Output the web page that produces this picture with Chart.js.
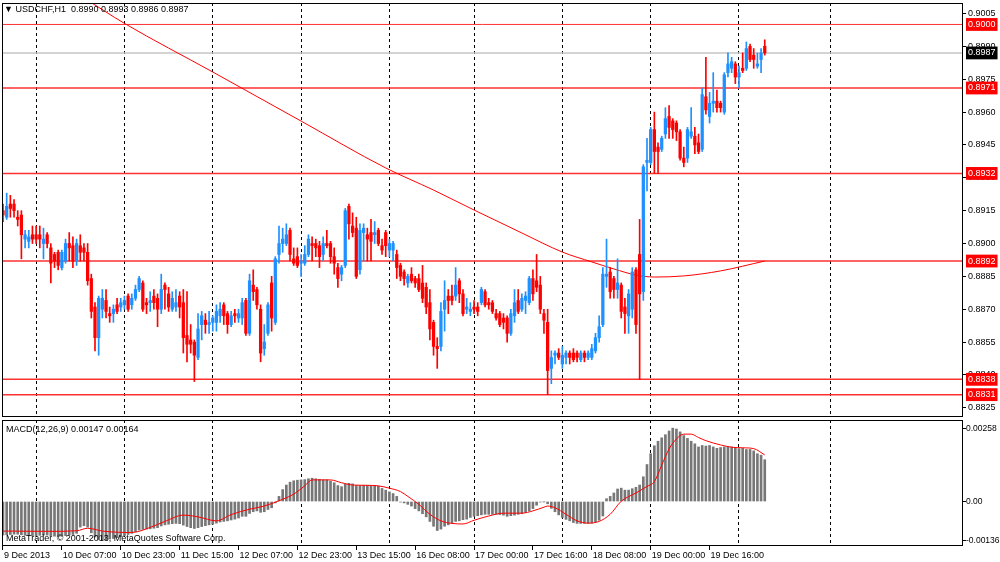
<!DOCTYPE html>
<html>
<head>
<meta charset="utf-8">
<title>USDCHF,H1</title>
<script src="https://cdn.jsdelivr.net/npm/chart.js@4.4.1/dist/chart.umd.min.js"></script>
<style>
  html, body { margin: 0; padding: 0; background: #fff; }
  body { width: 1000px; height: 562px; position: relative; overflow: hidden; font-family: 'Liberation Sans', 'DejaVu Sans', sans-serif; }
  canvas { position: absolute; left: 0; }
  #priceChart { top: 0; }
  #macdChart { top: 418px; }
  .label { position: absolute; font-size: 9px; line-height: 11px; color: #000; white-space: nowrap; }
</style>
</head>
<body>
<canvas id="priceChart" width="1000" height="418"></canvas>
<canvas id="macdChart" width="1000" height="144"></canvas>
<div class="label" style="left:4px;top:4px">▼ USDCHF,H1&nbsp;&nbsp;0.8990 0.8993 0.8986 0.8987</div>
<div class="label" style="left:6px;top:424px">MACD(12,26,9) 0.00147 0.00164</div>
<div class="label" style="left:6px;top:533px">MetaTrader, © 2001-2013, MetaQuotes Software Corp.</div>
<script>
// Hourly USDCHF candles, one value per bar (bar 0 = 9 Dec 15:00)
const candleOpen = [
  0.8915,0.8912,0.8918,0.8918,0.8912,0.8913,0.8902,0.8901,0.8904,0.8904,0.8904,0.8900,
  0.8904,0.8898,0.8895,0.8896,0.8889,0.8892,0.8900,0.8899,0.8892,0.8899,0.8898,0.8896,
  0.8884,0.8871,0.8857,0.8870,0.8874,0.8868,0.8868,0.8872,0.8871,0.8872,0.8876,0.8872,
  0.8875,0.8879,0.8882,0.8873,0.8873,0.8876,0.8875,0.8870,0.8881,0.8877,0.8870,0.8871,
  0.8876,0.8873,0.8858,0.8856,0.8855,0.8848,0.8863,0.8865,0.8863,0.8864,0.8864,0.8867,
  0.8872,0.8868,0.8863,0.8868,0.8866,0.8866,0.8874,0.8859,0.8881,0.8879,0.8870,0.8852,
  0.8859,0.8882,0.8864,0.8895,0.8900,0.8900,0.8906,0.8893,0.8894,0.8891,0.8891,0.8895,
  0.8900,0.8900,0.8899,0.8895,0.8900,0.8900,0.8894,0.8889,0.8886,0.8890,0.8917,0.8908,
  0.8907,0.8888,0.8905,0.8904,0.8905,0.8904,0.8906,0.8899,0.8905,0.8897,0.8897,0.8895,
  0.8890,0.8887,0.8882,0.8886,0.8884,0.8884,0.8882,0.8880,0.8873,0.8864,0.8853,0.8853,
  0.8870,0.8876,0.8876,0.8876,0.8883,0.8877,0.8870,0.8869,0.8871,0.8871,0.8873,0.8878,
  0.8873,0.8873,0.8868,0.8868,0.8866,0.8866,0.8859,0.8867,0.8874,0.8870,0.8874,0.8873,
  0.8884,0.8883,0.8881,0.8868,0.8864,0.8843,0.8849,0.8850,0.8845,0.8848,0.8850,0.8850,
  0.8850,0.8847,0.8850,0.8848,0.8848,0.8851,0.8857,0.8863,0.8885,0.8887,0.8884,0.8879,
  0.8881,0.8871,0.8867,0.8870,0.8888,0.8895,0.8878,0.8937,0.8937,0.8952,0.8944,0.8943,
  0.8950,0.8958,0.8956,0.8955,0.8951,0.8939,0.8939,0.8949,0.8949,0.8946,0.8943,0.8967,
  0.8958,0.8964,0.8965,0.8964,0.8960,0.8978,0.8980,0.8982,0.8976,0.8980,0.8980,0.8990,
  0.8986,0.8981,0.8984,0.8990
];
const candleHigh = [
  0.8918,0.8923,0.8922,0.8920,0.8915,0.8915,0.8906,0.8906,0.8908,0.8908,0.8908,0.8907,
  0.8905,0.8900,0.8896,0.8897,0.8897,0.8902,0.8905,0.8903,0.8902,0.8904,0.8900,0.8900,
  0.8886,0.8873,0.8876,0.8879,0.8879,0.8871,0.8872,0.8875,0.8875,0.8876,0.8877,0.8877,
  0.8881,0.8885,0.8883,0.8875,0.8878,0.8879,0.8877,0.8886,0.8882,0.8880,0.8878,0.8879,
  0.8878,0.8879,0.8878,0.8863,0.8856,0.8868,0.8869,0.8868,0.8869,0.8867,0.8872,0.8873,
  0.8873,0.8869,0.8869,0.8870,0.8870,0.8875,0.8875,0.8886,0.8888,0.8880,0.8872,0.8863,
  0.8873,0.8885,0.8894,0.8908,0.8907,0.8909,0.8907,0.8898,0.8898,0.8895,0.8899,0.8904,
  0.8903,0.8902,0.8901,0.8903,0.8906,0.8901,0.8898,0.8891,0.8890,0.8916,0.8918,0.8914,
  0.8912,0.8909,0.8909,0.8907,0.8911,0.8910,0.8907,0.8902,0.8906,0.8902,0.8901,0.8897,
  0.8891,0.8888,0.8886,0.8889,0.8885,0.8886,0.8890,0.8882,0.8879,0.8865,0.8857,0.8873,
  0.8883,0.8879,0.8881,0.8889,0.8884,0.8879,0.8875,0.8873,0.8874,0.8873,0.8880,0.8879,
  0.8875,0.8874,0.8870,0.8869,0.8868,0.8867,0.8870,0.8879,0.8879,0.8877,0.8878,0.8885,
  0.8888,0.8895,0.8885,0.8870,0.8870,0.8851,0.8851,0.8852,0.8853,0.8851,0.8851,0.8852,
  0.8851,0.8851,0.8851,0.8851,0.8854,0.8859,0.8867,0.8889,0.8902,0.8889,0.8885,0.8893,
  0.8882,0.8875,0.8879,0.8889,0.8889,0.8911,0.8936,0.8948,0.8953,0.8960,0.8946,0.8949,
  0.8962,0.8963,0.8957,0.8956,0.8952,0.8944,0.8953,0.8962,0.8953,0.8950,0.8971,0.8985,
  0.8969,0.8978,0.8970,0.8965,0.8978,0.8987,0.8985,0.8983,0.8981,0.8987,0.8992,0.8991,
  0.8989,0.8987,0.8989,0.8993
];
const candleLow = [
  0.8910,0.8911,0.8912,0.8912,0.8908,0.8893,0.8898,0.8898,0.8900,0.8900,0.8898,0.8893,
  0.8898,0.8882,0.8889,0.8888,0.8888,0.8891,0.8892,0.8889,0.8890,0.8892,0.8892,0.8881,
  0.8866,0.8851,0.8849,0.8866,0.8866,0.8864,0.8864,0.8868,0.8869,0.8870,0.8869,0.8870,
  0.8874,0.8878,0.8869,0.8868,0.8869,0.8870,0.8862,0.8868,0.8870,0.8869,0.8869,0.8869,
  0.8866,0.8850,0.8846,0.8850,0.8837,0.8847,0.8856,0.8859,0.8859,0.8860,0.8860,0.8864,
  0.8863,0.8859,0.8862,0.8864,0.8864,0.8863,0.8858,0.8858,0.8874,0.8870,0.8846,0.8849,
  0.8858,0.8860,0.8863,0.8891,0.8896,0.8899,0.8892,0.8890,0.8889,0.8885,0.8890,0.8894,
  0.8892,0.8894,0.8889,0.8892,0.8898,0.8891,0.8886,0.8880,0.8883,0.8889,0.8902,0.8903,
  0.8884,0.8886,0.8892,0.8892,0.8892,0.8900,0.8899,0.8895,0.8894,0.8894,0.8892,0.8884,
  0.8883,0.8881,0.8880,0.8882,0.8880,0.8878,0.8873,0.8868,0.8856,0.8849,0.8843,0.8851,
  0.8860,0.8868,0.8872,0.8874,0.8873,0.8867,0.8868,0.8867,0.8868,0.8867,0.8872,0.8871,
  0.8870,0.8868,0.8865,0.8862,0.8861,0.8855,0.8858,0.8864,0.8868,0.8869,0.8868,0.8872,
  0.8874,0.8878,0.8868,0.8859,0.8831,0.8836,0.8845,0.8847,0.8843,0.8845,0.8845,0.8846,
  0.8846,0.8846,0.8846,0.8847,0.8847,0.8850,0.8855,0.8862,0.8880,0.8875,0.8875,0.8875,
  0.8866,0.8859,0.8859,0.8866,0.8859,0.8838,0.8874,0.8924,0.8936,0.8932,0.8932,0.8942,
  0.8948,0.8948,0.8948,0.8947,0.8938,0.8935,0.8937,0.8948,0.8941,0.8941,0.8942,0.8959,
  0.8955,0.8960,0.8960,0.8960,0.8959,0.8976,0.8978,0.8973,0.8971,0.8978,0.8979,0.8983,
  0.8980,0.8980,0.8978,0.8986
];
const candleClose = [
  0.8913,0.8917,0.8916,0.8915,0.8911,0.8904,0.8904,0.8903,0.8902,0.8902,0.8902,0.8902,
  0.8900,0.8891,0.8892,0.8890,0.8896,0.8900,0.8898,0.8892,0.8900,0.8896,0.8896,0.8883,
  0.8869,0.8857,0.8875,0.8875,0.8869,0.8867,0.8870,0.8869,0.8873,0.8874,0.8870,0.8875,
  0.8879,0.8884,0.8870,0.8872,0.8874,0.8873,0.8870,0.8879,0.8879,0.8871,0.8875,0.8873,
  0.8871,0.8857,0.8854,0.8854,0.8849,0.8861,0.8867,0.8863,0.8864,0.8866,0.8869,0.8870,
  0.8867,0.8863,0.8867,0.8867,0.8868,0.8873,0.8859,0.8883,0.8878,0.8872,0.8850,0.8855,
  0.8872,0.8866,0.8893,0.8900,0.8902,0.8904,0.8895,0.8891,0.8890,0.8892,0.8895,0.8902,
  0.8899,0.8898,0.8894,0.8900,0.8899,0.8894,0.8891,0.8884,0.8889,0.8915,0.8909,0.8905,
  0.8885,0.8906,0.8907,0.8902,0.8901,0.8905,0.8900,0.8897,0.8899,0.8900,0.8900,0.8889,
  0.8885,0.8884,0.8885,0.8883,0.8882,0.8879,0.8875,0.8871,0.8861,0.8853,0.8852,0.8869,
  0.8874,0.8874,0.8874,0.8881,0.8877,0.8868,0.8871,0.8870,0.8870,0.8869,0.8879,0.8872,
  0.8872,0.8869,0.8866,0.8863,0.8864,0.8859,0.8868,0.8873,0.8869,0.8875,0.8876,0.8884,
  0.8877,0.8880,0.8870,0.8865,0.8842,0.8848,0.8850,0.8848,0.8849,0.8850,0.8848,0.8847,
  0.8848,0.8850,0.8848,0.8850,0.8852,0.8857,0.8862,0.8886,0.8886,0.8878,0.8879,0.8882,
  0.8869,0.8868,0.8877,0.8887,0.8863,0.8877,0.8935,0.8938,0.8952,0.8942,0.8942,0.8948,
  0.8957,0.8953,0.8952,0.8951,0.8939,0.8937,0.8952,0.8951,0.8945,0.8942,0.8968,0.8961,
  0.8964,0.8965,0.8962,0.8962,0.8977,0.8982,0.8983,0.8976,0.8978,0.8979,0.8989,0.8984,
  0.8984,0.8982,0.8987,0.8987
];

// Moving average (bar index, price)
const maIdx = [22, 33, 57, 81, 104, 117, 128, 141, 152, 160, 166, 172, 177, 185, 195, 207];
const maVal = [0.90121, 0.90005, 0.89783, 0.89559, 0.89345, 0.89244, 0.89153, 0.89048,
               0.88961, 0.88916, 0.88884, 0.88856, 0.88847, 0.88852, 0.88875, 0.88920];

// Horizontal levels and the current bid line
const levelPrices = [0.9000, 0.8971, 0.8932, 0.8892, 0.8838, 0.8831];
const lastPrice = 0.8987;
const priceTicks = [0.9005, 0.8990, 0.8975, 0.8960, 0.8945, 0.8930, 0.8915,
                    0.8900, 0.8885, 0.8870, 0.8855, 0.8840, 0.8825];

// MACD(12,26,9): main histogram per bar, signal line read at points
const macdHist = [
  -0.00118,-0.00117,-0.00116,-0.00115,-0.00115,-0.00117,-0.00119,-0.00120,-0.00120,-0.00120,-0.00119,-0.00118,
  -0.00118,-0.00120,-0.00122,-0.00123,-0.00122,-0.00120,-0.00118,-0.00116,-0.00112,-0.00090,-0.00085,-0.00090,
  -0.00110,-0.00125,-0.00134,-0.00136,-0.00135,-0.00132,-0.00130,-0.00127,-0.00124,-0.00120,-0.00116,-0.00112,
  -0.00106,-0.00100,-0.00098,-0.00097,-0.00096,-0.00094,-0.00092,-0.00086,-0.00082,-0.00080,-0.00078,-0.00077,
  -0.00078,-0.00083,-0.00088,-0.00092,-0.00095,-0.00092,-0.00088,-0.00085,-0.00082,-0.00080,-0.00076,-0.00072,
  -0.00070,-0.00068,-0.00065,-0.00062,-0.00058,-0.00052,-0.00052,-0.00042,-0.00036,-0.00033,-0.00038,-0.00036,
  -0.00028,-0.00022,-0.00005,0.00018,0.00042,0.00058,0.00068,0.00073,0.00075,0.00076,0.00077,0.00080,
  0.00082,0.00080,0.00078,0.00076,0.00076,0.00072,0.00066,0.00056,0.00052,0.00062,0.00064,0.00062,
  0.00056,0.00056,0.00057,0.00057,0.00056,0.00057,0.00054,0.00046,0.00040,0.00034,0.00028,0.00018,
  -0.00002,-0.00005,-0.00010,-0.00016,-0.00025,-0.00033,-0.00043,-0.00054,-0.00070,-0.00087,-0.00102,-0.00097,
  -0.00087,-0.00082,-0.00076,-0.00070,-0.00068,-0.00064,-0.00062,-0.00056,-0.00052,-0.00050,-0.00047,-0.00045,
  -0.00045,-0.00045,-0.00045,-0.00046,-0.00048,-0.00052,-0.00050,-0.00048,-0.00045,-0.00043,-0.00039,-0.00033,
  -0.00025,-0.00013,-0.00002,-0.00001,-0.00008,-0.00024,-0.00036,-0.00047,-0.00056,-0.00063,-0.00068,-0.00074,
  -0.00077,-0.00077,-0.00077,-0.00077,-0.00076,-0.00072,-0.00066,-0.00051,0.00010,0.00018,0.00030,0.00044,
  0.00047,0.00040,0.00040,0.00045,0.00050,0.00058,0.00087,0.00130,0.00168,0.00196,0.00212,0.00224,
  0.00235,0.00248,0.00258,0.00255,0.00245,0.00232,0.00222,0.00212,0.00203,0.00192,0.00197,0.00195,
  0.00197,0.00192,0.00187,0.00190,0.00192,0.00192,0.00192,0.00190,0.00186,0.00187,0.00183,0.00183,
  0.00178,0.00168,0.00163,0.00147
];
const signalIdx = [0, 12, 20, 23, 27, 31, 35, 40, 44, 49, 53, 58, 62, 67, 71, 76, 79, 82, 84, 89,
                   92, 95, 99, 102, 105, 108, 110, 113, 116, 119, 122, 125, 128, 132, 136, 141, 144,
                   147, 148, 150, 153, 156, 159, 162, 165, 168, 172, 175, 177, 179, 181, 183, 185,
                   187, 189, 191, 195, 198, 201, 204, 207];
const signalVal = [-0.00104, -0.00105, -0.00103, -0.00094, -0.00104, -0.00108, -0.00109, -0.00091,
                   -0.00070, -0.00048, -0.00054, -0.00068, -0.00046, -0.00027, -0.00016, 0.00008,
                   0.00026, 0.00055, 0.00076, 0.00076, 0.00066, 0.00058, 0.00057, 0.00055, 0.00047,
                   0.00035, 0.00018, -0.00010, -0.00045, -0.00068, -0.00077, -0.00079, -0.00066,
                   -0.00051, -0.00041, -0.00041, -0.00033, -0.00020, -0.00016, -0.00022, -0.00045,
                   -0.00068, -0.00076, -0.00070, -0.00045, 0.00001, 0.00030, 0.00053, 0.00070,
                   0.00128, 0.00185, 0.00220, 0.00237, 0.00237, 0.00225, 0.00214, 0.00199, 0.00191,
                   0.00189, 0.00186, 0.00164];
const macdTicks = [0.00258, 0, -0.00136];

// Time axis: labels every 16 bars, dashed grid every 24 bars
const timeLabelIdx = [0, 16, 32, 48, 64, 80, 96, 112, 128, 144, 160, 176, 192];
const timeLabels = ['9 Dec 2013', '10 Dec 07:00', '10 Dec 23:00', '11 Dec 15:00', '12 Dec 07:00',
                    '12 Dec 23:00', '13 Dec 15:00', '16 Dec 08:00', '17 Dec 00:00', '17 Dec 16:00',
                    '18 Dec 08:00', '19 Dec 00:00', '19 Dec 16:00'];
const gridIdx = [9, 33, 57, 81, 105, 128, 152, 176, 200, 225];

const X_MIN = -0.27;
const X_MAX = 260.87;
const FONT = "'Liberation Sans', 'DejaVu Sans', sans-serif";
const BULL = '#1e90ff';
const BEAR = '#ff0000';

// Thin black frame around each plot area
const framePlugin = {
  id: 'frame',
  afterDraw(chart) {
    const a = chart.chartArea;
    const ctx = chart.ctx;
    ctx.save();
    ctx.strokeStyle = '#000';
    ctx.lineWidth = 1;
    ctx.strokeRect(Math.round(a.left) + 0.5, Math.round(a.top) + 0.5,
                   Math.round(a.right - a.left) - 1, Math.round(a.bottom - a.top) - 1);
    ctx.restore();
  }
};

function tickKind(v) {
  if (levelPrices.some(p => Math.abs(p - v) < 1e-9)) return 'level';
  if (Math.abs(v - lastPrice) < 1e-9) return 'last';
  return 'plain';
}

function levelLine(price, color, width) {
  return {
    type: 'line',
    data: [{ x: X_MIN, y: price }, { x: X_MAX, y: price }],
    borderColor: color,
    borderWidth: width,
    pointRadius: 0,
    order: 5,
    xAxisID: 'x',
    yAxisID: 'y'
  };
}

function gridAxis(position) {
  return {
    type: 'linear',
    axis: 'x',
    position: position,
    min: X_MIN,
    max: X_MAX,
    offset: false,
    grid: { offset: false, color: '#000', lineWidth: 1, drawTicks: false },
    border: { display: false, dash: [3, 3] },
    ticks: { display: false },
    afterBuildTicks: s => { s.ticks = gridIdx.map(v => ({ value: v })); },
    afterFit: s => { s.height = 0; s.paddingLeft = 0; s.paddingRight = 0; }
  };
}

// ---- price panel ----
const isBull = candleClose.map((c, i) => c >= candleOpen[i]);
const candleColors = isBull.map(b => (b ? BULL : BEAR));

const priceDatasets = levelPrices.map(p => levelLine(p, '#ff3030', p === 0.9000 ? 1 : 1.5));
priceDatasets.push(levelLine(lastPrice, '#c4c4c4', 1.5));
priceDatasets.push({
  type: 'line',
  data: maIdx.map((x, k) => ({ x: x, y: maVal[k] })),
  borderColor: '#ff0000',
  borderWidth: 1,
  pointRadius: 0,
  cubicInterpolationMode: 'monotone',
  order: 3,
  xAxisID: 'x',
  yAxisID: 'y'
});
priceDatasets.push({
  type: 'bar',
  data: candleOpen.map((o, i) => ({ x: i, y: [candleLow[i], candleHigh[i]] })),
  backgroundColor: candleColors,
  barThickness: 1,
  grouped: false,
  order: 2,
  xAxisID: 'x',
  yAxisID: 'y'
});
priceDatasets.push({
  type: 'bar',
  data: candleOpen.map((o, i) => ({ x: i, y: [Math.min(o, candleClose[i]), Math.max(o, candleClose[i])] })),
  backgroundColor: candleColors,
  barThickness: 2.6,
  minBarLength: 1,
  grouped: false,
  order: 1,
  xAxisID: 'x',
  yAxisID: 'y'
});

new Chart(document.getElementById('priceChart'), {
  type: 'bar',
  data: { datasets: priceDatasets },
  options: {
    responsive: false,
    animation: false,
    events: [],
    layout: { padding: { left: 2, top: 3, right: 0, bottom: 1 } },
    plugins: { legend: { display: false }, tooltip: { enabled: false } },
    scales: {
      x: gridAxis('bottom'),
      y: {
        type: 'linear',
        position: 'right',
        min: 0.88208,
        max: 0.90098,
        afterBuildTicks: s => {
          s.ticks = [...priceTicks, lastPrice, ...levelPrices].map(v => ({ value: v }));
        },
        afterFit: s => { s.width = 37; s.paddingTop = 0; s.paddingBottom = 0; },
        grid: {
          drawOnChartArea: false,
          drawTicks: true,
          tickLength: 3,
          color: ctx => (ctx.tick && tickKind(ctx.tick.value) === 'plain' ? '#000' : 'rgba(0,0,0,0)')
        },
        border: { display: false },
        ticks: {
          autoSkip: false,
          padding: 2,
          font: { family: FONT, size: 9 },
          color: ctx => (tickKind(ctx.tick.value) === 'plain' ? '#000' : '#fff'),
          showLabelBackdrop: true,
          backdropPadding: { top: 1, bottom: 1, left: 2, right: 2 },
          backdropColor: ctx => {
            const k = tickKind(ctx.tick.value);
            if (k === 'level') return '#ff0000';
            if (k === 'last') return '#000';
            return 'rgba(0,0,0,0)';
          },
          callback: v => Number(v).toFixed(4)
        }
      }
    }
  },
  plugins: [framePlugin]
});

// ---- MACD panel ----
new Chart(document.getElementById('macdChart'), {
  type: 'bar',
  data: {
    datasets: [
      {
        type: 'line',
        data: signalIdx.map((x, k) => ({ x: x, y: signalVal[k] })),
        borderColor: '#ff0000',
        borderWidth: 1,
        pointRadius: 0,
        cubicInterpolationMode: 'monotone',
        order: 0,
        xAxisID: 'x',
        yAxisID: 'y'
      },
      {
        type: 'bar',
        data: macdHist.map((v, i) => ({ x: i, y: v })),
        backgroundColor: '#777777',
        barThickness: 2,
        grouped: false,
        order: 1,
        xAxisID: 'x',
        yAxisID: 'y'
      }
    ]
  },
  options: {
    responsive: false,
    animation: false,
    events: [],
    layout: { padding: { left: 2, top: 2, right: 0, bottom: 0 } },
    plugins: { legend: { display: false }, tooltip: { enabled: false } },
    scales: {
      x: {
        type: 'linear',
        position: 'bottom',
        min: X_MIN,
        max: X_MAX,
        offset: false,
        grid: { offset: false, drawOnChartArea: false, drawTicks: true, tickLength: 4, color: '#000' },
        border: { display: false },
        ticks: {
          autoSkip: false,
          maxRotation: 0,
          minRotation: 0,
          align: 'start',
          padding: 0,
          labelOffset: 1,
          color: '#000',
          font: { family: FONT, size: 9 },
          callback: v => {
            const k = timeLabelIdx.indexOf(v);
            return k >= 0 ? timeLabels[k] : '';
          }
        },
        afterBuildTicks: s => { s.ticks = timeLabelIdx.map(v => ({ value: v })); },
        afterFit: s => { s.height = 16; s.paddingLeft = 0; s.paddingRight = 0; }
      },
      xg: gridAxis('top'),
      y: {
        type: 'linear',
        position: 'right',
        min: -0.001565,
        max: 0.002867,
        afterBuildTicks: s => { s.ticks = macdTicks.map(v => ({ value: v })); },
        afterFit: s => { s.width = 37; s.paddingTop = 0; s.paddingBottom = 0; },
        grid: { drawOnChartArea: false, drawTicks: true, tickLength: 3, color: '#000' },
        border: { display: false },
        ticks: {
          autoSkip: false,
          padding: 0,
          color: '#000',
          font: { family: FONT, size: 8.5 },
          callback: v => (v === 0 ? '0.00' : Number(v).toFixed(5))
        }
      }
    }
  },
  plugins: [framePlugin]
});
</script>
</body>
</html>
